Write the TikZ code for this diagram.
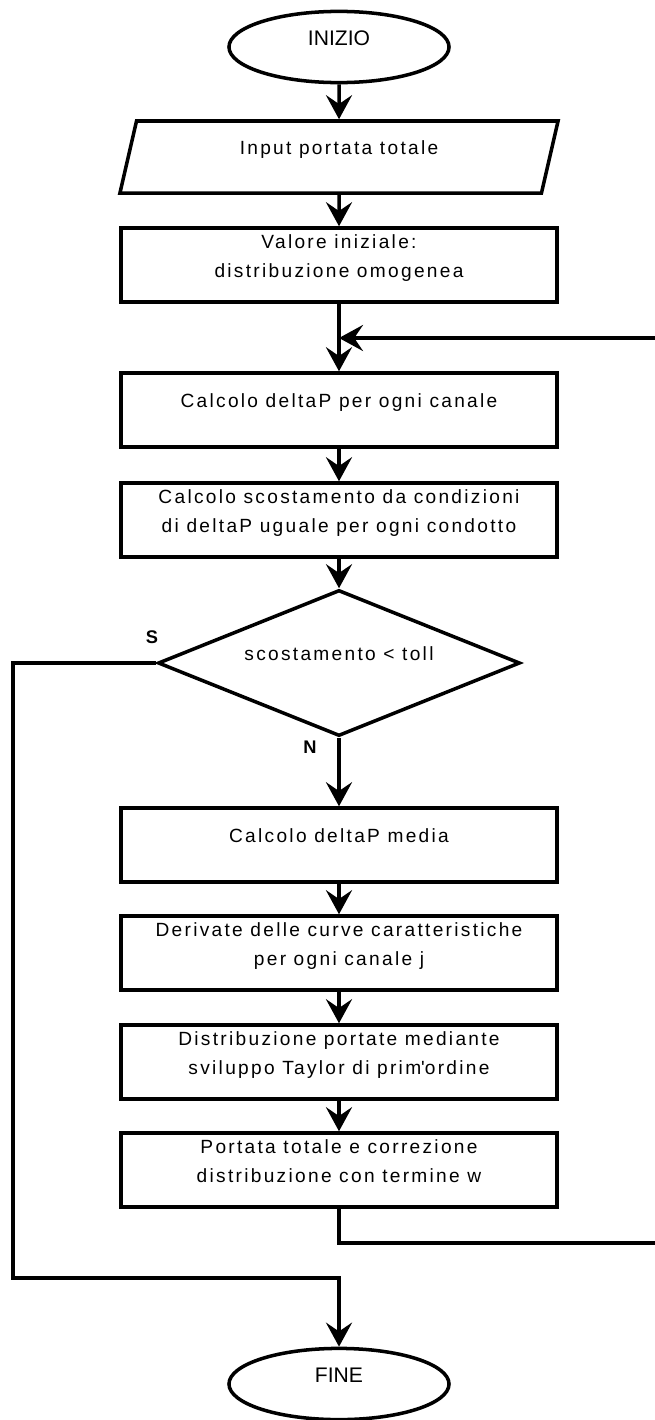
\documentclass[tikz,border=0pt]{standalone}
\usepackage{fontspec}
\setmainfont{Liberation Sans}
\newfontfamily\spacedfont{Liberation Sans}[LetterSpace=12]
\usetikzlibrary{shapes.geometric,arrows.meta}

\begin{document}
\begin{tikzpicture}[x=0.025cm,y=-0.025cm,line width=2.5pt,
  flow/.style={-{Stealth[length=6mm,width=6.5mm,inset=2.2mm]}},
  lift/.style={execute at end node={\rule[-4.5mm]{0pt}{0pt}}},
  term/.style={ellipse,draw,minimum width=5.5cm,minimum height=1.78cm,inner sep=0pt,
    font=\fontsize{15}{18}\selectfont,lift},
  io/.style={trapezium,trapezium left angle=62.5,trapezium right angle=117.5,
    trapezium stretches body,draw,minimum width=10.95cm,minimum height=1.8cm,inner sep=0pt,
    font=\spacedfont\fontsize{13.6}{20.6}\selectfont,lift},
  proc/.style={rectangle,draw,minimum width=10.9cm,minimum height=1.85cm,inner sep=0pt,
    align=center,font=\spacedfont\fontsize{13.6}{20.6}\selectfont,lift},
  dec/.style={diamond,aspect=2.48,draw,minimum width=9.05cm,minimum height=3.65cm,inner sep=0pt,
    font=\spacedfont\fontsize{13.6}{20.6}\selectfont,lift},
  tag/.style={font=\bfseries\fontsize{13}{15}\selectfont}]

\useasboundingbox (0,0) rectangle (654,1420);

\node [term] (inizio) at (339,47) {INIZIO};
\node [io] (input) at (339,157) {Input portata totale};
\node [proc] (valore) at (339,265) {Valore iniziale:\\distribuzione omogenea};
\node [proc] (deltap) at (339,410) {Calcolo deltaP per ogni canale};
\node [proc] (scost) at (339,520) {Calcolo scostamento da condizioni\\di deltaP uguale per ogni condotto};
\node [dec] (test) at (339,663) {scostamento < toll};
\node [proc] (media) at (339,845) {Calcolo deltaP media};
\node [proc] (deriv) at (339,953) {Derivate delle curve caratteristiche\\per ogni canale j};
\node [proc] (distr) at (339,1062) {Distribuzione portate mediante\\sviluppo Taylor di prim\textquotesingle ordine};
\node [proc] (portata) at (339,1170) {Portata totale e correzione\\distribuzione con termine w};
\node [term] (fine) at (339,1384) {FINE};

\node [tag] (s) at (152,637) {S};
\node [tag] (n) at (310,747) {N};

\coordinate (join) at (339,338);
\coordinate (retbot) at (662,1243);
\coordinate (rettop) at (662,338);
\coordinate (sleft) at (13,663);
\coordinate (sbot) at (13,1278);

\draw [flow] (inizio) -- (input);
\draw [flow] (input) -- (valore);
\draw [flow] (valore) -- (deltap);
\draw [flow] (deltap) -- (scost);
\draw [flow] (scost) -- (test);
\draw [flow] (test) -- (media);
\draw [flow] (media) -- (deriv);
\draw [flow] (deriv) -- (distr);
\draw [flow] (distr) -- (portata);

% ritorno al ciclo
\draw [flow] (portata.south) |- (retbot) -- (rettop) -- (join);
% uscita
\draw [flow] (test.west) -- (sleft) -- (sbot) -| (fine.north);

\end{tikzpicture}
\end{document}
